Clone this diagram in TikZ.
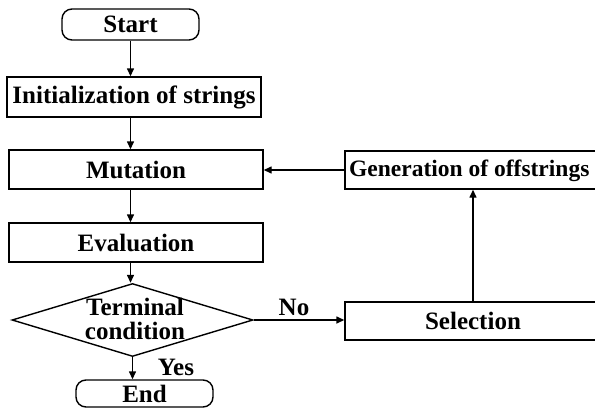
\documentclass[tikz,border=0pt]{standalone}
\usepackage{fontspec}
\setmainfont{Liberation Serif}
\usetikzlibrary{shapes.geometric,arrows.meta}
\tikzset{
  lbl/.style={font=\fontsize{25}{24}\selectfont\bfseries, inner sep=0pt},
  procbox/.style={draw, line width=1.4pt, rectangle, minimum width=254pt, minimum height=39pt, inner sep=0pt, font=\fontsize{25}{24}\selectfont\bfseries},
  termbox/.style={draw, line width=1.4pt, rectangle, rounded corners=10pt, minimum width=137pt, inner sep=0pt, font=\fontsize{25}{24}\selectfont\bfseries},
  decbox/.style={draw, line width=1.4pt, diamond, minimum width=241pt, minimum height=73pt, inner sep=0pt},
  flow/.style={line width=1.4pt, -{Triangle[length=8pt,width=7pt]}}
}
\begin{document}
\begin{tikzpicture}[x=1pt,y=-1pt]
\clip (0,0) rectangle (595,416);
\fill[white] (0,0) rectangle (595,416);
\node[termbox, minimum height=31pt] (start) at (130.5,24.5) {Start};
\node[procbox, minimum height=40pt] (init) at (134,97) {Initialization of strings};
\node[procbox] (mut) at (136,169.5) {Mutation};
\node[procbox] (eval) at (136,242.5) {Evaluation};
\node[decbox] (dec) at (132.5,320) {};
\node[lbl, align=center] (dectext) at (135,319) {Terminal\\[0pt]condition};
\node[termbox, minimum height=27pt] (end) at (144.5,393.5) {End};
\node[procbox, minimum width=256pt, minimum height=38pt] (gen) at (473,170) {};
\node[lbl, font=\fontsize{23.5}{24}\selectfont\bfseries, anchor=west] (gentext) at (349,171) {Generation of offstrings};
\node[procbox, minimum width=256pt, minimum height=38pt] (sel) at (473,321) {Selection};
\node[lbl] (no) at (294,307) {No};
\node[lbl] (yes) at (176,367) {Yes};
\draw[flow] (start.south) -- (start.south |- init.north);
\draw[flow] (init.south -| start.south) -- (mut.north -| start.south);
\draw[flow] (mut.south -| start.south) -- (eval.north -| start.south);
\draw[flow] (eval.south -| start.south) -- (dec.north -| start.south);
\draw[flow] (dec.south) -- (dec.south |- end.north);
\draw[flow] (dec.east) -- (dec.east -| sel.west);
\draw[flow] (sel.north) -- (gen.south);
\draw[flow] (gen.west) -- (gen.west -| mut.east);
\end{tikzpicture}
\end{document}
